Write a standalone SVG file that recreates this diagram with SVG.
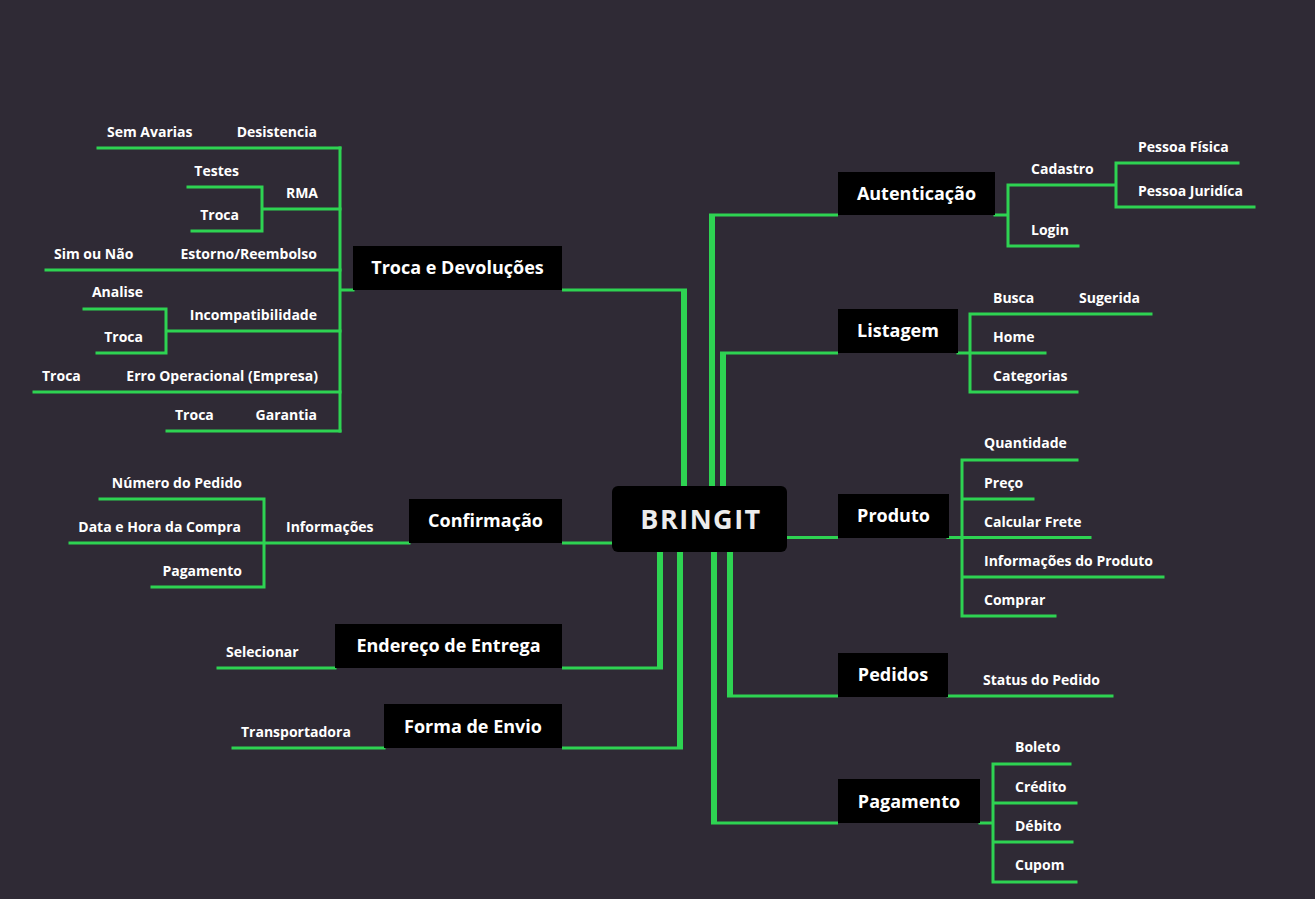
<svg xmlns="http://www.w3.org/2000/svg" width="1315" height="899" viewBox="0 0 1315 899">
<style>
.bg{fill:#2f2a35}
.nd{fill:#000}
.nt{font-family:"Open Sans","Liberation Sans",sans-serif;font-weight:700;font-size:18px;fill:#fff;text-anchor:middle}
.ct{font-family:"Open Sans","Liberation Sans",sans-serif;font-weight:700;font-size:27px;fill:#ececec;text-anchor:middle;letter-spacing:1.5px}
.lb{font-family:"Open Sans","Liberation Sans",sans-serif;font-weight:700;font-size:14px;fill:#fff}
.e{text-anchor:end}
.tk{stroke:#2ed352;stroke-width:6;fill:none}
.cn{stroke:#2ed352;stroke-width:3;fill:none}
.br{stroke:#2ed352;stroke-width:3;fill:none;stroke-linecap:square}
</style>
<rect class="bg" x="0" y="0" width="1315" height="899"/>

<g id="connectors">
  <line class="tk" x1="684" y1="290" x2="684" y2="500"/>
  <line class="cn" x1="562" y1="290" x2="687" y2="290"/>
  <line class="tk" x1="712" y1="215" x2="712" y2="500"/>
  <line class="cn" x1="709" y1="215" x2="838" y2="215"/>
  <line class="tk" x1="723" y1="353" x2="723" y2="500"/>
  <line class="cn" x1="720" y1="353" x2="838" y2="353"/>
  <line class="cn" x1="780" y1="537.5" x2="838" y2="537.5"/>
  <line class="cn" x1="562" y1="543" x2="620" y2="543"/>
  <line class="tk" x1="660" y1="540" x2="660" y2="668"/>
  <line class="cn" x1="562" y1="668" x2="663" y2="668"/>
  <line class="tk" x1="680" y1="540" x2="680" y2="748"/>
  <line class="cn" x1="562" y1="748" x2="683" y2="748"/>
  <line class="tk" x1="730" y1="540" x2="730" y2="696"/>
  <line class="cn" x1="727" y1="696" x2="838" y2="696"/>
  <line class="tk" x1="714" y1="540" x2="714" y2="823"/>
  <line class="cn" x1="711" y1="823" x2="838" y2="823"/>

  <path class="br" d="M340,148 V431 M340,290 H353"/>
  <path class="br" d="M98,148 H340"/>
  <path class="br" d="M262,209 H340 M262,187 V231 M188,187 H262 M192,231 H262"/>
  <path class="br" d="M46,270 H340"/>
  <path class="br" d="M166,331 H340 M166,309 V353 M84,309 H166 M97,353 H166"/>
  <path class="br" d="M34,392 H340"/>
  <path class="br" d="M167,431 H340"/>

  <path class="br" d="M70,543 H409 M264,499 V587 M100,499 H264 M152,587 H264"/>
  <path class="br" d="M218,668 H335"/>
  <path class="br" d="M233,748 H384"/>

  <path class="br" d="M995,215 H1008 M1008,185 V246 M1008,185 H1116 M1008,246 H1078 M1116,163 V207 M1116,163 H1238 M1116,207 H1254"/>
  <path class="br" d="M958,353 H1045 M970,314 V392 M970,314 H1151 M970,392 H1077"/>
  <path class="br" d="M948,537.5 H1090 M962,460 V616 M962,460 H1077 M962,499 H1033 M962,577 H1163 M962,616 H1055"/>
  <path class="br" d="M948,696 H1112"/>
  <path class="br" d="M980,823 H993 M993,764 V882 M993,764 H1070 M993,803 H1076 M993,842 H1072 M993,882 H1076"/>
</g>

<g id="node-bringit">
  <rect class="nd" x="612" y="486" width="175" height="66" rx="6"/>
  <text class="ct" x="701" y="529">BRINGIT</text>
</g>
<g id="node-troca">
  <rect class="nd" x="353" y="246" width="209" height="44"/>
  <text class="nt" x="457.5" y="274">Troca e Devoluções</text>
</g>
<g id="node-confirmacao">
  <rect class="nd" x="409" y="499" width="153" height="44"/>
  <text class="nt" x="485.5" y="527">Confirmação</text>
</g>
<g id="node-endereco">
  <rect class="nd" x="335" y="624" width="227" height="44"/>
  <text class="nt" x="448.5" y="652">Endereço de Entrega</text>
</g>
<g id="node-forma">
  <rect class="nd" x="384" y="704" width="178" height="44"/>
  <text class="nt" x="473" y="733">Forma de Envio</text>
</g>
<g id="node-autenticacao">
  <rect class="nd" x="838" y="172" width="157" height="43"/>
  <text class="nt" x="916.5" y="200">Autenticação</text>
</g>
<g id="node-listagem">
  <rect class="nd" x="838" y="309" width="120" height="44"/>
  <text class="nt" x="898" y="337">Listagem</text>
</g>
<g id="node-produto">
  <rect class="nd" x="838" y="494" width="111" height="44"/>
  <text class="nt" x="893.5" y="522">Produto</text>
</g>
<g id="node-pedidos">
  <rect class="nd" x="838" y="653" width="110" height="44"/>
  <text class="nt" x="893" y="681">Pedidos</text>
</g>
<g id="node-pagamento">
  <rect class="nd" x="838" y="779" width="142" height="44"/>
  <text class="nt" x="909" y="808">Pagamento</text>
</g>

<g id="labels-troca">
  <text class="lb" x="107" y="137">Sem Avarias</text>
  <text class="lb e" x="317" y="137">Desistencia</text>
  <text class="lb e" x="239" y="176">Testes</text>
  <text class="lb e" x="318" y="198">RMA</text>
  <text class="lb e" x="239" y="220">Troca</text>
  <text class="lb" x="54" y="259">Sim ou Não</text>
  <text class="lb e" x="317" y="259">Estorno/Reembolso</text>
  <text class="lb e" x="143" y="297">Analise</text>
  <text class="lb e" x="317" y="320">Incompatibilidade</text>
  <text class="lb e" x="143" y="342">Troca</text>
  <text class="lb" x="42" y="381">Troca</text>
  <text class="lb e" x="318" y="381">Erro Operacional (Empresa)</text>
  <text class="lb" x="175" y="420">Troca</text>
  <text class="lb e" x="317" y="420">Garantia</text>
</g>
<g id="labels-confirmacao">
  <text class="lb e" x="242" y="488">Número do Pedido</text>
  <text class="lb e" x="241" y="532">Data e Hora da Compra</text>
  <text class="lb" x="286" y="532">Informações</text>
  <text class="lb e" x="242" y="576">Pagamento</text>
  <text class="lb" x="226" y="657">Selecionar</text>
  <text class="lb" x="241" y="737">Transportadora</text>
</g>
<g id="labels-right">
  <text class="lb" x="1031" y="174">Cadastro</text>
  <text class="lb" x="1031" y="235">Login</text>
  <text class="lb" x="1138" y="152">Pessoa Física</text>
  <text class="lb" x="1138" y="196">Pessoa Juridíca</text>
  <text class="lb" x="993" y="303">Busca</text>
  <text class="lb" x="1079" y="303">Sugerida</text>
  <text class="lb" x="993" y="342">Home</text>
  <text class="lb" x="993" y="381">Categorias</text>
  <text class="lb" x="984" y="448">Quantidade</text>
  <text class="lb" x="984" y="488">Preço</text>
  <text class="lb" x="984" y="527">Calcular Frete</text>
  <text class="lb" x="984" y="566">Informações do Produto</text>
  <text class="lb" x="984" y="605">Comprar</text>
  <text class="lb" x="983" y="685">Status do Pedido</text>
  <text class="lb" x="1015" y="752">Boleto</text>
  <text class="lb" x="1015" y="792">Crédito</text>
  <text class="lb" x="1015" y="831">Débito</text>
  <text class="lb" x="1015" y="870">Cupom</text>
</g>
</svg>
